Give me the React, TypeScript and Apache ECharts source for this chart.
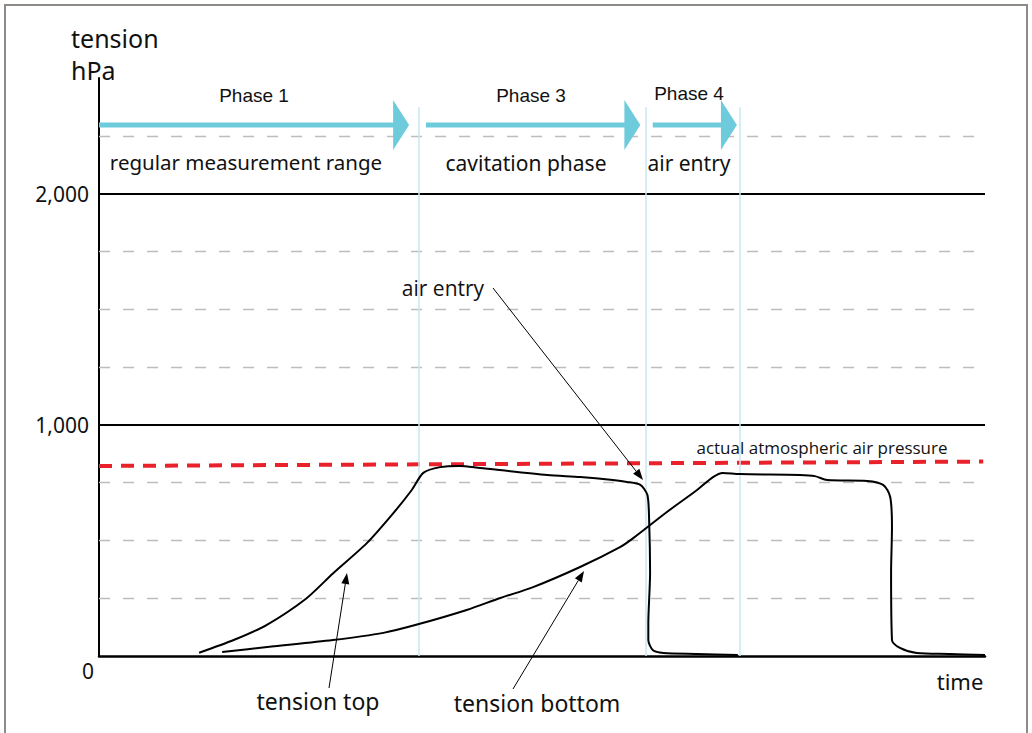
import React, { useEffect, useRef } from "react";
import * as echarts from "echarts";

// ---- data (time in arbitrary units 0..100, tension in hPa) ----
const topTime = [11.3, 15.2, 18.9, 23.4, 26.4, 30.2, 33.2, 35.3, 36.6, 38.5, 40.7, 43.0, 50.6, 54.3, 58.0, 59.6, 61.1, 61.9, 62.1, 62.2, 62.0, 62.0, 62.5, 63.7, 67.5, 72.1];
const topTension = [14, 69, 134, 249, 357, 487, 617, 718, 792, 817, 822, 813, 783, 774, 761, 753, 740, 696, 575, 359, 143, 69, 26, 13, 9, 4];

const bottomTime = [13.9, 19.0, 26.4, 32.1, 35.9, 41.5, 45.3, 49.0, 54.3, 58.8, 60.3, 64.1, 67.5, 69.3, 70.4, 72.3, 79.1, 80.8, 82.2, 86.7, 88.5, 89.3, 89.5, 89.4, 89.5, 90.4, 92.3, 96.0, 100];
const bottomTension = [17, 39, 69, 100, 136, 199, 251, 298, 385, 471, 510, 623, 718, 774, 792, 787, 783, 778, 761, 757, 740, 688, 558, 359, 69, 35, 13, 9, 4];

const atmosphereTime = [0, 99.8];
const atmosphereTension = [822, 841];

const phaseBoundaries = [36.1, 61.7, 72.3];
const phaseBoundaryTop = 2374;

const phaseNames = ["Phase 1", "Phase 3", "Phase 4"];
const phaseStart = [0, 36.9, 62.5];
const phaseEnd = [35.0, 61.1, 72.0];
const phaseArrowLevel = 2297;

const yDashedLines = [250, 500, 750, 1250, 1500, 1750, 2250];
const ySolidLines = [1000, 2000];
const yTickLabels = [0, 1000, 2000];

const zip = (xs: number[], ys: number[]) => xs.map((x, i) => [x, ys[i]]);

const CYAN = "#6ecbdb";

function arrowGraphic(x1: number, y1: number, x2: number, y2: number) {
  const ang = Math.atan2(y2 - y1, x2 - x1);
  const len = 11;
  const half = 4;
  const bx = x2 - len * Math.cos(ang);
  const by = y2 - len * Math.sin(ang);
  const px = -Math.sin(ang) * half;
  const py = Math.cos(ang) * half;
  return [
    {
      type: "line",
      shape: { x1, y1, x2: bx, y2: by },
      style: { stroke: "#000", lineWidth: 1 },
      z: 50,
    },
    {
      type: "polygon",
      shape: { points: [[x2, y2], [bx + px, by + py], [bx - px, by - py]] },
      style: { fill: "#000" },
      z: 50,
    },
  ];
}

function txt(text: string, x: number, y: number, font: string, align = "center") {
  return {
    type: "text",
    x,
    y,
    z: 60,
    style: { text, fill: "#111", font, align, verticalAlign: "middle" },
  };
}

export default function App() {
  const ref = useRef<HTMLDivElement>(null);
  useEffect(() => {
    if (!ref.current) return;
    const chart = echarts.init(ref.current, null, { renderer: "svg" });
    const fmt = (v: number) => v.toLocaleString("en-US");

    const option: any = {
      animation: false,
      grid: { left: 99, right: 47, top: 78, bottom: 77, containLabel: false },
      xAxis: {
        type: "value",
        min: 0,
        max: 100,
        axisLine: { show: true, lineStyle: { color: "#000", width: 2.5 } },
        axisTick: { show: false },
        axisLabel: { show: false },
        splitLine: { show: false },
      },
      yAxis: {
        type: "value",
        min: 0,
        max: 2500,
        interval: 250,
        axisLine: { show: true, lineStyle: { color: "#000", width: 2 } },
        axisTick: { show: false },
        splitLine: { show: false },
        axisLabel: {
          margin: 5,
          formatter: (v: number) => {
            if (!yTickLabels.includes(v)) return "";
            if (v === 0) return "{z|0}";
            return "{n|" + fmt(v) + "}";
          },
          rich: {
            n: { fontFamily: "Noto Sans", fontSize: 21, color: "#111", padding: [0, 5, 0, 0] },
            z: { fontFamily: "Noto Sans", fontSize: 21, color: "#111", padding: [30, 0, 0, 0] },
          },
        },
      },
      series: [
        {
          name: "grid",
          type: "line",
          data: [],
          silent: true,
          z: 1,
          markLine: {
            silent: true,
            symbol: ["none", "none"],
            label: { show: false },
            data: [
              ...yDashedLines.map((v) => ({
                yAxis: v,
                lineStyle: { color: "#bdbdbd", width: 1.3, type: [11, 13] },
              })),
              ...ySolidLines.map((v) => ({
                yAxis: v,
                lineStyle: { color: "#000", width: 2, type: "solid" },
              })),
              ...phaseBoundaries.map((x) => [
                { coord: [x, 0], lineStyle: { color: "#c8e7ef", width: 1.5, type: "solid" } },
                { coord: [x, phaseBoundaryTop] },
              ]),
            ],
          },
        },
        {
          name: "actual atmospheric air pressure",
          type: "line",
          data: zip(atmosphereTime, atmosphereTension),
          showSymbol: false,
          z: 3,
          lineStyle: { color: "#e8212b", width: 4, type: [13, 9] },
        },
        {
          name: "tension top",
          type: "line",
          data: zip(topTime, topTension),
          showSymbol: false,
          smooth: 0.25,
          z: 5,
          lineStyle: { color: "#000", width: 2 },
        },
        {
          name: "tension bottom",
          type: "line",
          data: zip(bottomTime, bottomTension),
          showSymbol: false,
          smooth: 0.3,
          z: 5,
          lineStyle: { color: "#000", width: 2 },
        },
        {
          name: "phases",
          type: "custom",
          z: 6,
          data: phaseNames.map((n, i) => [phaseStart[i], phaseEnd[i], phaseArrowLevel]),
          renderItem: (_p: any, api: any) => {
            const p0 = api.coord([api.value(0), api.value(2)]);
            const p1 = api.coord([api.value(1), api.value(2)]);
            const hw = 16;
            const hh = 25;
            return {
              type: "group",
              children: [
                {
                  type: "rect",
                  shape: { x: p0[0], y: p0[1] - 2.5, width: p1[0] - hw - p0[0] + 1, height: 5 },
                  style: { fill: CYAN },
                },
                {
                  type: "polygon",
                  shape: { points: [[p1[0] - hw, p1[1] - hh], [p1[0], p1[1]], [p1[0] - hw, p1[1] + hh]] },
                  style: { fill: CYAN },
                },
              ],
            };
          },
        },
      ],
      graphic: [
        {
          type: "rect",
          shape: { x: 5, y: 5, width: 1022, height: 800 },
          style: { fill: "none", stroke: "#8e8a88", lineWidth: 2 },
          z: 0,
        },
        txt("tension", 71, 38, "25px 'Noto Sans'", "left"),
        txt("hPa", 71, 70, "25px 'Noto Sans'", "left"),
        txt("time", 960, 681, "22px 'Noto Sans'"),
        txt("Phase 1", 254, 95, "19px 'Liberation Sans'"),
        txt("Phase 3", 531, 95, "19px 'Liberation Sans'"),
        txt("Phase 4", 689, 93, "19px 'Liberation Sans'"),
        txt("regular measurement range", 246, 162, "20.5px 'Noto Sans'"),
        txt("cavitation phase", 526, 163, "21px 'Noto Sans'"),
        txt("air entry", 689, 163, "21px 'Noto Sans'"),
        txt("air entry", 443, 288, "21px 'Open Sans'"),
        txt("actual atmospheric air pressure", 822, 447, "17px 'Open Sans'"),
        txt("tension top", 318, 701, "23px 'Noto Sans'"),
        txt("tension bottom", 537, 703, "23px 'Noto Sans'"),
        ...arrowGraphic(493, 288, 643, 480),
        ...arrowGraphic(329, 688, 347, 573),
        ...arrowGraphic(513, 689, 584, 571),
      ],
    };
    chart.setOption(option);
    return () => chart.dispose();
  }, []);
  return (
    <div
      ref={ref}
      style={{ position: "absolute", left: 0, top: 0, width: 1032, height: 733, background: "#fff" }}
    />
  );
}
